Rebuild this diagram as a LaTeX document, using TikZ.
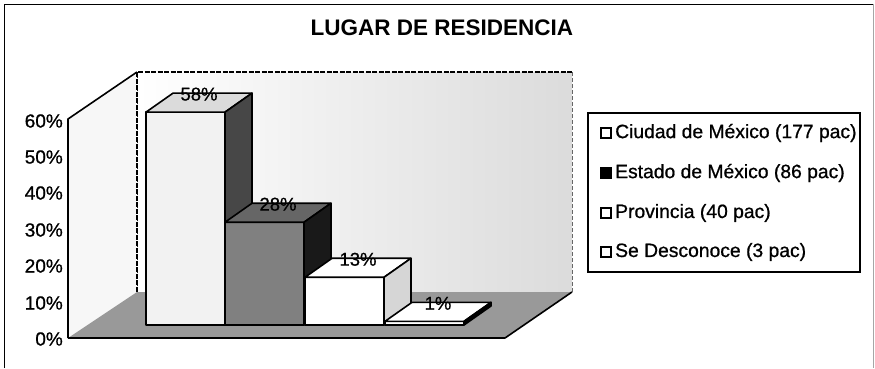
\documentclass[tikz,border=0pt]{standalone}
\usepackage{fontspec}
\setmainfont{Liberation Sans}
\newfontfamily\scanfont[FakeBold=0.8]{Liberation Sans}
\begin{document}
\begin{tikzpicture}[x=1pt,y=-1pt,
  edge/.style={draw=black,line width=1.6pt,line join=round},
  wallline/.style={draw=black,line width=1.1pt,dash pattern=on 5pt off 1.5pt},
  txt/.style={font=\scanfont\fontsize{19}{22}\selectfont,inner sep=0pt,text=black},
  legtxt/.style={font=\scanfont\fontsize{19.3}{22}\selectfont,inner sep=0pt,text=black},
  valtxt/.style={font=\scanfont\fontsize{18.5}{22}\selectfont,inner sep=0pt,text=black},
  ttl/.style={font=\bfseries\fontsize{22.5}{26}\selectfont,inner sep=0pt},
  legmark/.style={draw=black,line width=1.4pt,minimum size=10pt,inner sep=0pt}]
\useasboundingbox (0,0) rectangle (875,368);
\fill[white] (0,0) rectangle (875,368);
% chart border
\draw[line width=1pt] (4,368) -- (4,4) -- (874,4);
\draw[black!35,line width=0.7pt] (873,4) -- (873,368);
% title
\node[ttl] (title) at (442,28) {LUGAR DE RESIDENCIA};
% back wall
\shade[left color=white,right color=black!14] (137,72) rectangle (572,292);
\draw[wallline] (137,292) -- (137,72) -- (572,72);
\draw[black!60,line width=0.6pt,dash pattern=on 4pt off 2pt] (572,72) -- (572,292);
% left wall
\fill[black!3] (68,338) -- (68,119) -- (137,72) -- (137,292) -- cycle;
\draw[wallline] (137,72) -- (137,292);
\draw[edge] (68,338) -- (68,119) -- (137,72);
% floor
\fill[black!40] (68,338) -- (505,338) -- (572,292) -- (137,292) -- cycle;
\draw[edge] (68,338) -- (505,338) -- (572,292);
% axis labels
\node[txt,anchor=east] (a0) at (63,339) {0\%};
\node[txt,anchor=east] (a10) at (63,303) {10\%};
\node[txt,anchor=east] (a20) at (63,266) {20\%};
\node[txt,anchor=east] (a30) at (63,230) {30\%};
\node[txt,anchor=east] (a40) at (63,193) {40\%};
\node[txt,anchor=east] (a50) at (63,157) {50\%};
\node[txt,anchor=east] (a60) at (63,121) {60\%};
% bars
\foreach \x/\v/\fc/\tc/\sc/\nm in {146/58/black!5/black!14/black!72/v1,
  225/28/black!50/black!60/black!90/v2,
  305/13/white/white/black!16/v3,
  385/1/white/white/black/v4} {
  \pgfmathsetmacro\yt{325-3.67*\v}
  \filldraw[edge,fill=\fc] (\x,\yt) rectangle (\x+79,325);
  \filldraw[edge,fill=\tc] (\x,\yt) -- (\x+27,\yt-19) -- (\x+106,\yt-19) -- (\x+79,\yt) -- cycle;
  \filldraw[edge,fill=\sc] (\x+79,\yt) -- (\x+106,\yt-19) -- (\x+106,306) -- (\x+79,325) -- cycle;
  \node[valtxt] (\nm) at (\x+53,\yt-18) {\v\%};
}
% legend
\filldraw[draw=black,fill=white,line width=1.3pt] (588,113) rectangle (860,272);
\node[legmark,fill=white] (m1) at (606,133) {};
\node[legmark,fill=black] (m2) at (606,173) {};
\node[legmark,fill=white] (m3) at (606,213) {};
\node[legmark,fill=white] (m4) at (606,252) {};
\node[legtxt,anchor=west] (l1) at (615,133) {Ciudad de México (177 pac)};
\node[legtxt,anchor=west] (l2) at (615,173) {Estado de México (86 pac)};
\node[legtxt,anchor=west] (l3) at (615,213) {Provincia (40 pac)};
\node[legtxt,anchor=west] (l4) at (615,252) {Se Desconoce (3 pac)};
\end{tikzpicture}
\end{document}
